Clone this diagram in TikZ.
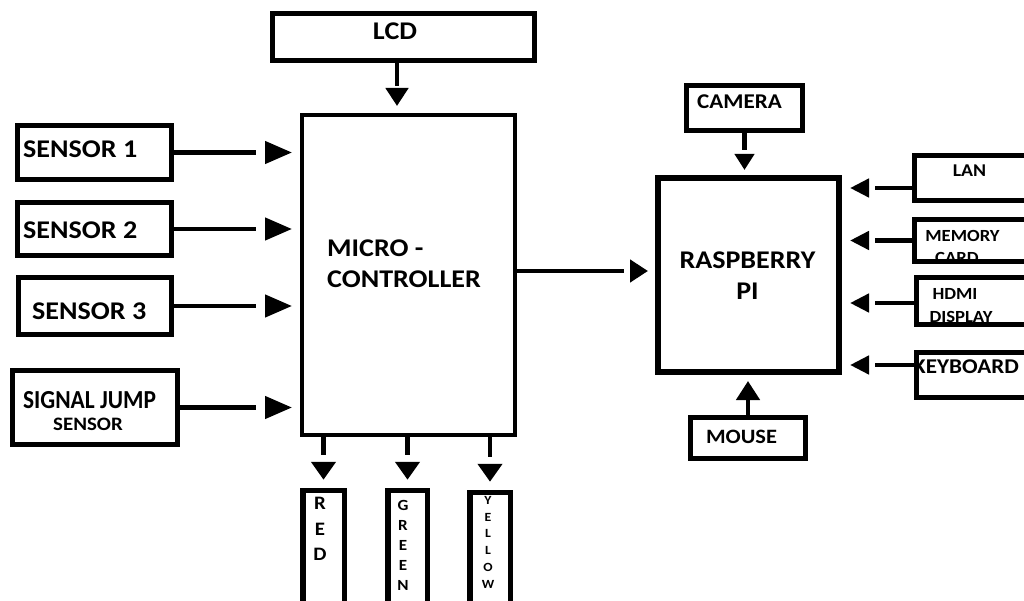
\documentclass[tikz,border=0pt]{standalone}
\usepackage{fontspec}
\setmainfont{Carlito}[FakeStretch=1.1]
\newfontfamily\condfont{Carlito}[FakeStretch=0.9]
\usetikzlibrary{arrows.meta}
\tikzset{
  box/.style={draw=black, line width=#1, inner sep=0pt},
  box/.default=5pt,
  tx/.style={inner sep=0pt, text=black},
  fs/.style 2 args={font=\bfseries\fontsize{#1}{#2}\selectfont},
  ln/.style={line width=4.5pt, shorten >=#1},
  hd/.style n args={3}{line width=4.5pt, dash pattern=on 0pt off 2000pt, shorten >=#3, -{Triangle[length=#1,width=#2]}},
}
\newcommand{\myconn}[6]{%
  \draw[ln=#3] (#1) -- (#2);
  \draw[hd={#4}{#5}{#6}] (#1) -- (#2);}
\begin{document}
\begin{tikzpicture}[x=1pt,y=-1pt]
\fill[white] (0,0) rectangle (1024,601);
\useasboundingbox (0,0) rectangle (1024,601);
\clip (0,0) rectangle (1024,601);

% ---------- texts ----------
\node[tx, fs={25.5}{30}, anchor=base] (lcdt) at (395,40) {LCD};
\node[tx, fs={25.5}{30}, anchor=base west] (s1t) at (23,158) {SENSOR 1};
\node[tx, fs={25.5}{30}, anchor=base west] (s2t) at (23,239) {SENSOR 2};
\node[tx, fs={25.5}{30}, anchor=base west] (s3t) at (32,319) {SENSOR 3};
\node[tx, font=\condfont\bfseries\fontsize{26}{26}\selectfont, anchor=base] (sigt1) at (89.5,408) {SIGNAL JUMP};
\node[tx, fs={19}{20}, anchor=base] (sigt2) at (88,430) {SENSOR};
\node[tx, fs={25.5}{31}, align=left, anchor=north west] (mct) at (327,240) {MICRO -\\CONTROLLER};
\node[tx, fs={25.5}{31}, align=center, anchor=north] (rpit) at (747.5,252) {RASPBERRY\\PI};
\node[tx, fs={21}{21}, anchor=base] (camt) at (739.5,109) {CAMERA};
\node[tx, fs={20.4}{21}, anchor=base] (mouset) at (741.5,443) {MOUSE};
\node[tx, fs={18}{18}, anchor=base] (lant) at (969.5,177) {LAN};
\node[tx, fs={17}{17}, anchor=base] (memt1) at (962.5,242) {MEMORY};
\node[tx, fs={17}{17}, anchor=base] (memt2) at (957,264) {CARD};
\node[tx, fs={17}{17}, anchor=base] (hdmit1) at (955,299) {HDMI};
\node[tx, fs={17}{17}, anchor=base] (hdmit2) at (961,322) {DISPLAY};
\node[tx, fs={21}{21}, anchor=base west] (kbt) at (913,373) {KEYBOARD};
\node[tx, fs={19}{25.5}, align=center, anchor=north] (redt) at (320,497) {R\\E\\D};
\node[tx, fs={15.5}{20}, align=center, anchor=north] (greent) at (403,500) {G\\R\\E\\E\\N};
\node[tx, fs={12.5}{16.8}, align=center, anchor=north] (yellowt) at (488,496) {Y\\E\\L\\L\\O\\W};

% ---------- boxes ----------
\node[box, minimum width=262pt, minimum height=47pt] (lcd) at (403.5,37) {};
\node[box, minimum width=154pt, minimum height=54pt] (s1) at (94.5,152.5) {};
\node[box, minimum width=154pt, minimum height=53pt] (s2) at (94.5,229) {};
\node[box, minimum width=153pt, minimum height=57pt] (s3) at (95,306) {};
\node[box, minimum width=165pt, minimum height=74pt] (sig) at (95,407.5) {};
\node[box=4pt, minimum width=213pt, minimum height=320pt] (mc) at (408.5,275) {};
\node[box=6pt, minimum width=181pt, minimum height=194pt] (rpi) at (748.5,275) {};
\node[box, minimum width=116pt, minimum height=45pt] (cam) at (744.5,108) {};
\node[box, minimum width=115pt, minimum height=41pt] (mouse) at (748,438) {};
\node[box, minimum width=123pt, minimum height=45pt] (lan) at (976,178) {};
\node[box, minimum width=123pt, minimum height=42pt] (mem) at (976,240.5) {};
\node[box, minimum width=121pt, minimum height=47pt] (hdmi) at (977,301) {};
\node[box, minimum width=121pt, minimum height=45pt] (kb) at (977,375) {};
\node[box=5.5pt, minimum width=41.5pt, minimum height=127pt] (red) at (323.5,554) {};
\node[box=5.5pt, minimum width=39.5pt, minimum height=127pt] (green) at (407.5,554) {};
\node[box=5.5pt, minimum width=40.5pt, minimum height=125pt] (yellow) at (490,555) {};

% ---------- connectors ----------
\coordinate (lcdp) at ([xshift=-6.5pt]lcd.south);
\myconn{lcdp}{lcdp |- mc.north}{27pt}{18pt}{22pt}{7pt}
\myconn{s1.east}{mc.west |- s1.east}{44pt}{27pt}{22pt}{8pt}
\myconn{s2.east}{mc.west |- s2.east}{44pt}{27pt}{22pt}{8pt}
\myconn{s3.east}{mc.west |- s3.east}{44pt}{27pt}{22pt}{8pt}
\myconn{sig.east}{mc.west |- sig.east}{44pt}{27pt}{22pt}{8pt}
\coordinate (mcp) at ([yshift=4pt]mc.east);
\myconn{mcp}{rpi.west |- mcp}{31pt}{18pt}{22pt}{7pt}
\myconn{cam.south}{cam.south |- rpi.north}{25pt}{16pt}{19pt}{5pt}
\myconn{mouse.north}{mouse.north |- rpi.south}{25pt}{19pt}{23pt}{6pt}
\coordinate (lanp) at ([yshift=-10pt]lan.west);
\myconn{lanp}{rpi.east |- lanp}{33pt}{19pt}{18pt}{8pt}
\myconn{mem.west}{rpi.east |- mem.west}{33pt}{19pt}{18pt}{8pt}
\coordinate (hdmip) at ([yshift=-2pt]hdmi.west);
\myconn{hdmip}{rpi.east |- hdmip}{33pt}{19pt}{18pt}{8pt}
\coordinate (kbp) at ([yshift=10pt]kb.west);
\myconn{kbp}{rpi.east |- kbp}{33pt}{19pt}{18pt}{8pt}
\myconn{red.north |- mc.south}{red.north}{33pt}{18pt}{24pt}{8pt}
\myconn{green.north |- mc.south}{green.north}{33pt}{18pt}{24pt}{8pt}
\myconn{yellow.north |- mc.south}{yellow.north}{33pt}{18pt}{24pt}{8pt}
\end{tikzpicture}
\end{document}
